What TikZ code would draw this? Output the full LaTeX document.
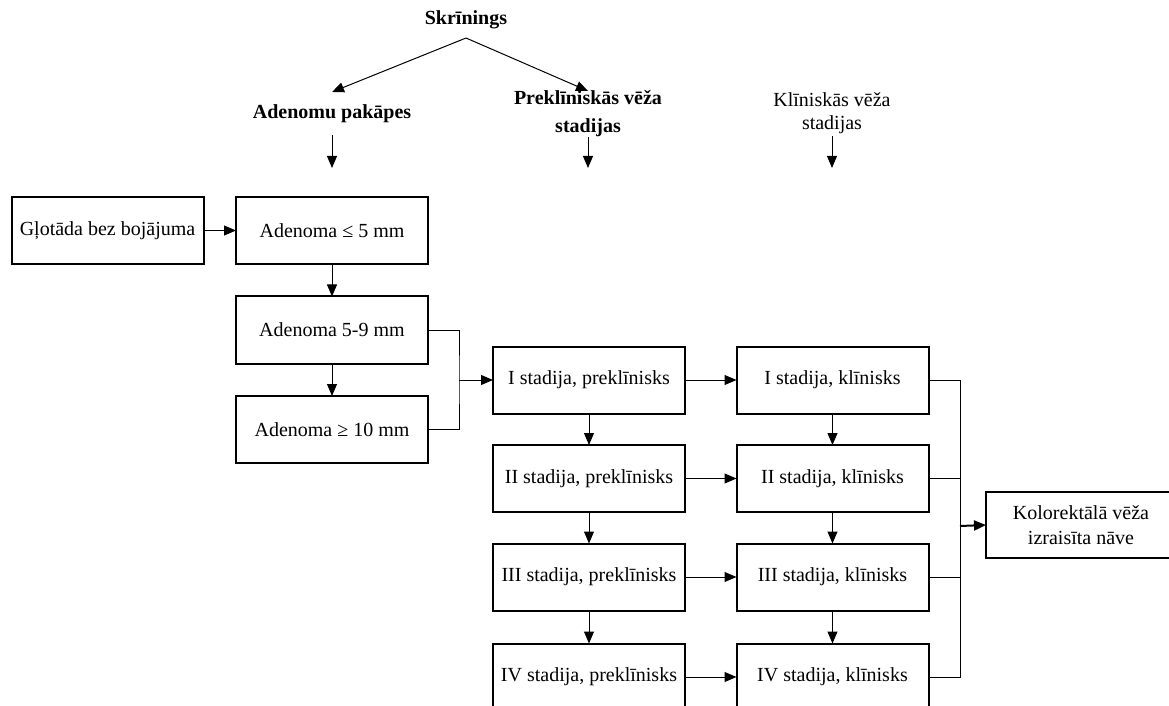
\documentclass[tikz,border=0pt]{standalone}
\usepackage{fontspec}
\setmainfont{Liberation Serif}
\usetikzlibrary{arrows.meta}
\begin{document}
\begin{tikzpicture}[x=0.5pt,y=-0.5pt,
  box/.style={draw,line width=1pt,minimum width=96pt,minimum height=33.5pt,inner sep=0pt,outer sep=0pt,font=\fontsize{10}{12.5}\selectfont,align=center},
  head/.style={font=\fontsize{10}{14}\selectfont\bfseries,align=center,inner sep=0pt},
  plainhead/.style={font=\fontsize{10}{11.5}\selectfont,align=center,inner sep=0pt},
  arr/.style={line width=0.5pt,-{Triangle[length=6pt,width=5pt]}},
  ln/.style={line width=0.5pt}]
\useasboundingbox (0,0) rectangle (1169,706);

% headings
\node[head] (skr) at (466,20) {Skrīnings};
\node[head] (adeh) at (332,114) {Adenomu pakāpes};
\node[head] (prekh) at (588,114) {Preklīniskās vēža\\stadijas};
\node[plainhead] (klinh) at (832,113) {Klīniskās vēža\\stadijas};

\coordinate (skrA) at (466,38);
\coordinate (adeT) at (332,92);
\coordinate (prekT) at (588,91);
\draw[arr] (skrA) -- (adeT);
\draw[arr] (skrA) -- (prekT);

\coordinate (h1a) at (332,135); \coordinate (h1b) at (332,168);
\coordinate (h2a) at (588,137); \coordinate (h2b) at (588,168);
\coordinate (h3a) at (832,136); \coordinate (h3b) at (832,168);
\draw[arr] (h1a) -- (h1b);
\draw[arr] (h2a) -- (h2b);
\draw[arr] (h3a) -- (h3b);

% boxes
\node[box] (g) at (107.5,230.5) {Gļotāda bez bojājuma};
\node[box] (a1) at (332,230.5) {Adenoma ≤ 5 mm};
\node[box] (a2) at (332,330) {Adenoma 5-9 mm};
\node[box] (a3) at (332,429.5) {Adenoma ≥ 10 mm};

\node[box] (p1) at (589,380) {I stadija, preklīnisks};
\node[box] (p2) at (589,478.5) {II stadija, preklīnisks};
\node[box] (p3) at (589,577) {III stadija, preklīnisks};
\node[box] (p4) at (589,677) {IV stadija, preklīnisks};

\node[box] (k1) at (832.5,380) {I stadija, klīnisks};
\node[box] (k2) at (832.5,478.5) {II stadija, klīnisks};
\node[box] (k3) at (832.5,577) {III stadija, klīnisks};
\node[box] (k4) at (832.5,677) {IV stadija, klīnisks};

\node[box,minimum width=95pt,minimum height=33pt] (kol) at (1081,525) {Kolorektālā vēža\\izraisīta nāve};

% connectors
\draw[arr] (g) -- (a1);
\draw[arr] (a1) -- (a2);
\draw[arr] (a2) -- (a3);
\coordinate (j1) at (459,380);
\draw[ln] (a2.east) -| (j1) |- (a3.east);
\draw[arr] (j1) -- (p1.west);

\draw[arr] (p1) -- (k1);
\draw[arr] (p2) -- (k2);
\draw[arr] (p3) -- (k3);
\draw[arr] (p4) -- (k4);

\draw[arr] (p1) -- (p2);
\draw[arr] (p2) -- (p3);
\draw[arr] (p3) -- (p4);
\draw[arr] (k1) -- (k2);
\draw[arr] (k2) -- (k3);
\draw[arr] (k3) -- (k4);

\coordinate (j2) at (960,526);
\draw[ln] (k1.east) -| (j2);
\draw[ln] (k4.east) -| (j2);
\draw[ln] (k2.east) -- (k2.east -| j2);
\draw[ln] (k3.east) -- (k3.east -| j2);
\draw[arr,line width=1pt] (j2) -- (kol.west);
\end{tikzpicture}
\end{document}
